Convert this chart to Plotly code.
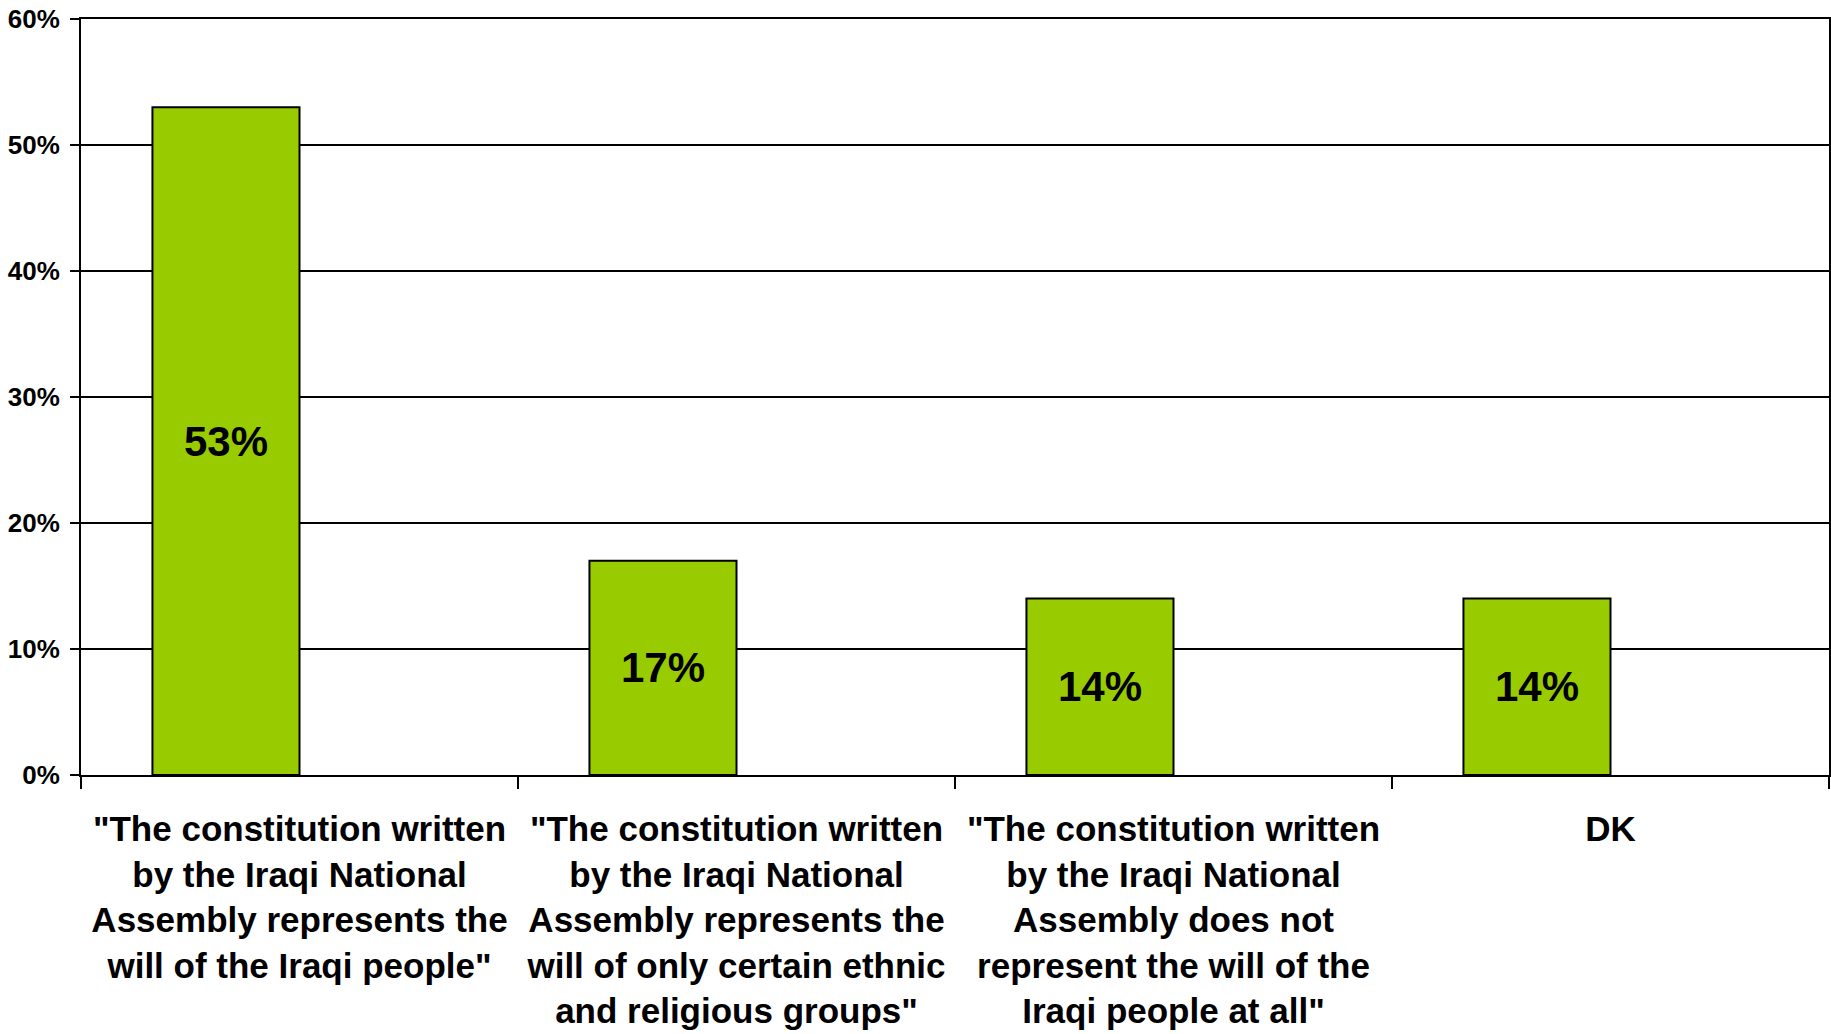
import plotly.graph_objects as go

categories = [
    '"The constitution written<br>by the Iraqi National<br>Assembly represents the<br>will of the Iraqi people"',
    '"The constitution written<br>by the Iraqi National<br>Assembly represents the<br>will of only certain ethnic<br>and religious groups"',
    '"The constitution written<br>by the Iraqi National<br>Assembly does not<br>represent the will of the<br>Iraqi people at all"',
    'DK',
]
values = [53, 17, 14, 14]
empty_series = [0, 0, 0, 0]
value_labels = [f"{v}%" for v in values]

fig = go.Figure()
fig.add_trace(go.Bar(
    x=categories, y=values,
    marker=dict(color="#99CC00", line=dict(color="black", width=2)),
    text=value_labels, textposition="inside", insidetextanchor="middle",
    textangle=0, constraintext="none",
    textfont=dict(family="Liberation Sans, Arial, sans-serif", size=42, color="black", weight="bold"),
    showlegend=False, hoverinfo="skip",
))
fig.add_trace(go.Bar(
    x=categories, y=empty_series,
    marker=dict(color="rgba(0,0,0,0)", line=dict(width=0)),
    showlegend=False, hoverinfo="skip",
))

fig.update_layout(
    width=1831, height=1034,
    margin=dict(l=81, r=2, t=19, b=259),
    barmode="group", bargap=0.327, bargroupgap=0,
    plot_bgcolor="white", paper_bgcolor="white",
    font=dict(family="Liberation Sans, Arial, sans-serif", color="black"),
)
fig.update_xaxes(
    type="category", tickson="boundaries", ticks="outside", ticklen=12,
    tickwidth=2, tickcolor="black",
    showline=True, mirror=True, linecolor="black", linewidth=2,
    tickfont=dict(size=35, color="black", weight="bold"),
    ticklabelstandoff=22, automargin=False,
    tickangle=0, showgrid=False,
)
fig.update_yaxes(
    range=[0, 60], dtick=10, ticksuffix="%",
    ticks="outside", ticklen=9, tickwidth=2, tickcolor="black",
    showline=True, mirror=True, linecolor="black", linewidth=2,
    showgrid=True, gridcolor="black", gridwidth=2,
    zeroline=False, ticklabelstandoff=5, ticklabeloverflow="allow",
    automargin=False,
    tickfont=dict(size=26, color="black", weight="bold"),
)

fig.write_html(
    "out.html",
    config={"displayModeBar": False},
    post_script="document.body.style.margin='0';document.body.style.overflow='hidden';",
)
